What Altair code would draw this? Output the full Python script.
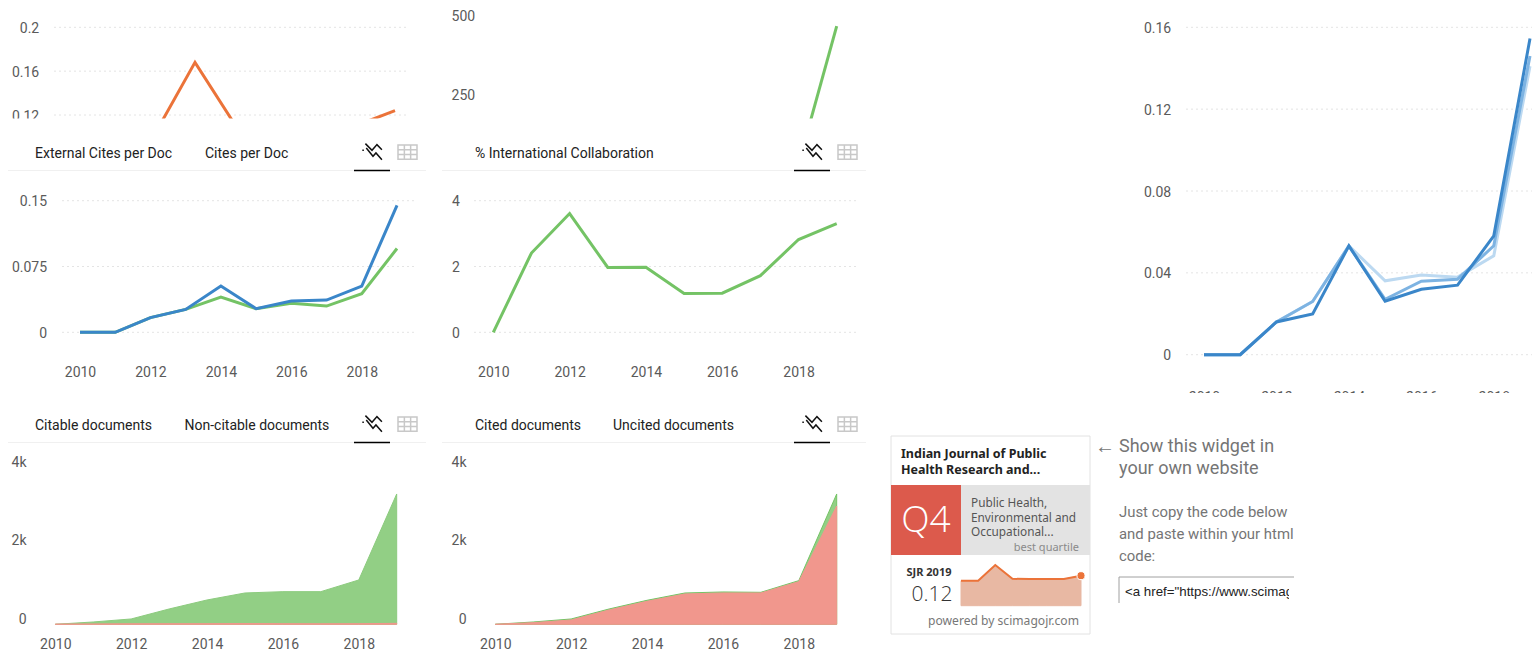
import altair as alt
import pandas as pd

W, H = 1524, 645
GREY = "#5a5a5a"
GREEN, BLUE, ORANGE = "#74c365", "#3a86c9", "#eb7339"
YEARS = list(range(2010, 2020))
TICK_YEARS = [2010, 2012, 2014, 2016, 2018]

SJR_YEARS = list(range(2012, 2020))
SJR = [0.103, 0.103, 0.168, 0.111, 0.11, 0.11, 0.11, 0.124]
COLLAB_YEARS = [2018, 2019]
COLLAB_SHOWN = [28, 465]
EXT_CITES = [0, 0, .0167, .0261, .0402, .0269, .033, .0299, .0439, .0955]
CITES = [0, 0, .0167, .0261, .0527, .0269, .0356, .0367, .0527, .1447]
INTL = [0, 2.41, 3.61, 1.97, 1.98, 1.18, 1.19, 1.72, 2.82, 3.30]
Q_DARK = [0, 0, .016, .0199, .0532, .0261, .032, .034, .0581, .1545]
Q_MID = [0, 0, .016, .026, .0532, .0271, .0359, .0369, .0532, .146]
Q_LIGHT = [0, 0, .016, .026, .0532, .0361, .0389, .0379, .0483, .141]
CITABLE = [0, 59, 136, 390, 619, 797, 831, 831, 1128, 3316]
NONCITABLE = [4, 8, 12, 14, 15, 18, 15, 12, 15, 25]
CITED = [0, 59, 136, 390, 611, 797, 823, 814, 1111, 3316]
UNCITED = [0, 42, 110, 365, 585, 772, 797, 797, 1085, 3010]

DOT = alt.Data(values=[{}])
units = []


def sx(a, b, d0=2010, d1=2019):
    return alt.Scale(domain=[d0, d1], range=[a - 8, b - 8], nice=False, zero=False)


def sy(bottom, top, d0, d1):
    return alt.Scale(domain=[d0, d1], range=[bottom - 8, top - 8], nice=False, zero=False)


def frame(xs, ys):
    return pd.DataFrame({"year": xs, "v": ys})


def yaxis(values, right, expr="'' + datum.value", shift=0):
    return alt.Axis(orient="left", offset=-(right - 8), values=values, title=None, domain=False, ticks=False,
                    grid=False, labelPadding=0, labelFont="Roboto", labelFontSize=14, labelColor=GREY,
                    labelOverlap=False, labelFlush=False, labelOffset=shift + 1, labelAlign="right",
                    labelBaseline="middle", labelExpr=expr)


def xaxis(centre_y):
    return alt.Axis(orient="bottom", offset=centre_y - 8 - H, values=TICK_YEARS, format="d", title=None,
                    domain=False, ticks=False, grid=False, labelPadding=0, labelFont="Roboto", labelFontSize=14,
                    labelColor=GREY, labelOverlap=False, labelFlush=False, labelBaseline="middle")


def grid(values, xscale_a, xscale_b, ys):
    units.append(alt.Chart(pd.DataFrame({"v": values})).mark_rule(color="#e4e4e4", strokeDash=[2, 3], strokeWidth=1)
                 .encode(x=alt.value(xscale_a - 8), x2=alt.value(xscale_b - 8),
                         y=alt.Y("v:Q", scale=ys, axis=None)))


def line(xs, ys, xsc, ysc, color, xa=None, ya=None, width=3):
    units.append(alt.Chart(frame(xs, ys)).mark_line(color=color, strokeWidth=width, interpolate="linear")
                 .encode(x=alt.X("year:Q", scale=xsc, axis=xa), y=alt.Y("v:Q", scale=ysc, axis=ya)))


def area(xs, ys, xsc, ysc, color, edge, xa=None, ya=None):
    units.append(alt.Chart(frame(xs, ys)).mark_area(color=color, stroke=edge, strokeWidth=1, opacity=1)
                 .encode(x=alt.X("year:Q", scale=xsc, axis=xa), y=alt.Y("v:Q", scale=ysc, axis=ya, stack=None)))


def txt(s, x, y, size=14, color="#222222", font="Roboto", weight=400, align="left"):
    units.append(alt.Chart(pd.DataFrame({"t": [s]})).mark_text(
        font=font, fontSize=size, color=color, fontWeight=weight, align=align, baseline="middle")
        .encode(x=alt.value(x - 8), y=alt.value(y - 7), text="t:N"))


def box(x0, x1, y0, y1, fill, stroke=None):
    kw = dict(fill=fill)
    if stroke:
        kw.update(stroke=stroke, strokeWidth=1)
    units.append(alt.Chart(DOT).mark_rect(**kw).encode(
        x=alt.value(x0 - 8), x2=alt.value(x1 - 8), y=alt.value(y0 - 8), y2=alt.value(y1 - 8)))


def rule(x0, x1, y0, y1, color, width=1):
    units.append(alt.Chart(DOT).mark_rule(color=color, strokeWidth=width).encode(
        x=alt.value(x0 - 8), x2=alt.value(x1 - 8), y=alt.value(y0 - 8), y2=alt.value(y1 - 8)))


ICON_LINE = ("M-.6,-.76L0,-.15L.45,-.67L.9,-.21M-.52,-.36L.09,.39L.36,.09L.9,.7"
             "M-.88,-.15L-.74,-.15")
ICON_GRID = "M-1,-.75H1V.75H-1ZM-1,-.25H1M-1,.25H1M-.33,-.75V.75M.33,-.75V.75"


def icon(path, x, y, size, color, width):
    units.append(alt.Chart(DOT).mark_point(shape=path, size=size, stroke=color, strokeWidth=width, fill=None,
                                           filled=False, opacity=1)
                 .encode(x=alt.value(x - 8), y=alt.value(y - 8)))


def tabs(x_off, y, labels):
    for s, x in labels:
        txt(s, x + x_off, y)
    rule(2 + x_off, 426 + x_off, y + 17.5, y + 17.5, "#f0f0f0")
    rule(354 + x_off, 390 + x_off, y + 17.5, y + 17.5, "#000000", 1.5)
    icon(ICON_LINE, 372 + x_off, y - 1, 484, "#111111", 1.5)
    icon(ICON_GRID, 407.5 + x_off, y - 1, 361, "#c8c8c8", 1.5)


# top-left, cropped
ys = sy(115, 27.3, 0.12, 0.2)
grid([0.12, 0.16, 0.2], 54, 407, ys)
line(SJR_YEARS, SJR, sx(195, 395, 2014, 2019), ys, ORANGE,
     ya=yaxis([0.12, 0.16, 0.2], 38.7))
# top-centre, cropped
ys = sy(94, 15, 250, 500)
line(COLLAB_YEARS, COLLAB_SHOWN, sx(798.5, 836.7, 2018, 2019), ys, GREEN,
     ya=yaxis([250, 500], 474.7))
box(0, 880, 118.5, 172, "#ffffff")

tabs(0, 153, [("External Cites per Doc", 35), ("Cites per Doc", 205)])
tabs(440, 153, [("% International Collaboration", 35)])
tabs(0, 425, [("Citable documents", 35), ("Non-citable documents", 184.5)])
tabs(440, 425, [("Cited documents", 35), ("Uncited documents", 173)])

# middle-left
xs = sx(80, 397)
ys = sy(332.3, 200.7, 0, 0.15)
grid([0, 0.075, 0.15], 62, 415, ys)
line(YEARS, EXT_CITES, xs, ys, GREEN, xa=xaxis(372), ya=yaxis([0, 0.075, 0.15], 46.6))
line(YEARS, CITES, xs, ys, BLUE)
# middle-centre
xs = sx(493.3, 836.7)
ys = sy(332.3, 200.7, 0, 4)
grid([0, 2, 4], 474, 856, ys)
line(YEARS, INTL, xs, ys, GREEN, xa=xaxis(372), ya=yaxis([0, 2, 4], 459.3))
# right
xs = sx(1204, 1530)
ys = sy(354.7, 27.3, 0, 0.16)
grid([0, 0.04, 0.08, 0.12, 0.16], 1186, 1532, ys)
line(YEARS, Q_LIGHT, xs, ys, "#bcd9f1", xa=xaxis(397), ya=yaxis([0, 0.04, 0.08, 0.12, 0.16], 1170.7))
line(YEARS, Q_MID, xs, ys, "#7db3e2")
line(YEARS, Q_DARK, xs, ys, BLUE)
box(1140, 1532, 393, 406, "#ffffff")

# bottom-left
KEXPR = "datum.value == 0 ? '0' : datum.value / 1000 + 'k'"
xs = sx(55.3, 396.7)
ys = sy(624.3, 467.1, 0, 4000)
area(YEARS, CITABLE, xs, ys, "#92cf85", "#8ccb7e", xa=xaxis(644.3), ya=yaxis([0, 2000, 4000], 26, KEXPR, -6))
area(YEARS, NONCITABLE, xs, ys, "#f1978d", "#f1978d")
# bottom-centre
xs = sx(495.3, 836.7)
area(YEARS, CITED, xs, ys, "#92cf85", GREEN, xa=xaxis(644.3), ya=yaxis([0, 2000, 4000], 466, KEXPR, -6))
area(YEARS, UNCITED, xs, ys, "#f1978d", "#f1978d")

# widget
box(891, 1090, 436, 634, "#ffffff", "#e2e2e2")
box(891, 961, 485, 555, "#dc5a4c")
box(961, 1090, 485, 555, "#e3e3e3")
WF = "Noto Sans"
txt("Indian Journal of Public", 901, 453, 12.5, "#222222", WF, 700)
txt("Health Research and...", 901, 469, 12.5, "#222222", WF, 700)
txt("Q4", 926, 520, 37, "#ffffff", "Open Sans", 300, "center")
txt("Public Health,", 971, 502, 11.8, "#555555", WF)
txt("Environmental and", 971, 517, 11.8, "#555555", WF)
txt("Occupational...", 971, 531, 11.8, "#555555", WF)
txt("best quartile", 1079, 547, 11, "#8a8a8a", WF, 400, "right")
txt("SJR 2019", 929, 572, 11, "#333333", WF, 700, "center")
txt("0.12", 932, 594, 21, "#333333", "Open Sans", 300, "center")
txt("powered by scimagojr.com", 1079, 620, 12.1, "#777777", WF, 400, "right")
xs = sx(961, 1081, 2012, 2019)
ys = sy(605.7, 565, 0, 0.168)
area(SJR_YEARS, SJR, xs, ys, "#e8b8a3", "#e8b8a3")
line(SJR_YEARS, SJR, xs, ys, ORANGE, width=2)
units.append(alt.Chart(frame(SJR_YEARS[-1:], SJR[-1:])).mark_point(
    filled=True, size=65, color=ORANGE, stroke="#ffffff", strokeWidth=1, opacity=1)
    .encode(x=alt.X("year:Q", scale=xs, axis=None), y=alt.Y("v:Q", scale=ys, axis=None)))

# side note
txt("←", 1095, 446, 20, "#757575", "Roboto", 400)
txt("Show this widget in", 1119, 446, 18, "#757575")
txt("your own website", 1119, 468, 18, "#757575")
txt("Just copy the code below", 1119, 512, 14.9, "#757575")
txt("and paste within your html", 1119, 534, 14.9, "#757575")
txt("code:", 1119, 556, 14.9, "#757575")
txt('<a href="https://www.scimagojr', 1125, 591, 13.3, "#222222", "Liberation Sans")
box(1289, 1400, 578, 603, "#ffffff")
rule(1119, 1294, 577, 577, "#a0a0a0")
rule(1119, 1119, 577, 603, "#a0a0a0")

chart = alt.layer(*units).resolve_scale(x="independent", y="independent").resolve_axis(
    x="independent", y="independent"
).properties(width=W, height=H, padding=0, autosize=alt.AutoSizeParams(type="none"),
             background="#ffffff").configure_view(stroke=None)

chart.save("out.html", embed_options={"renderer": "svg", "actions": False})
